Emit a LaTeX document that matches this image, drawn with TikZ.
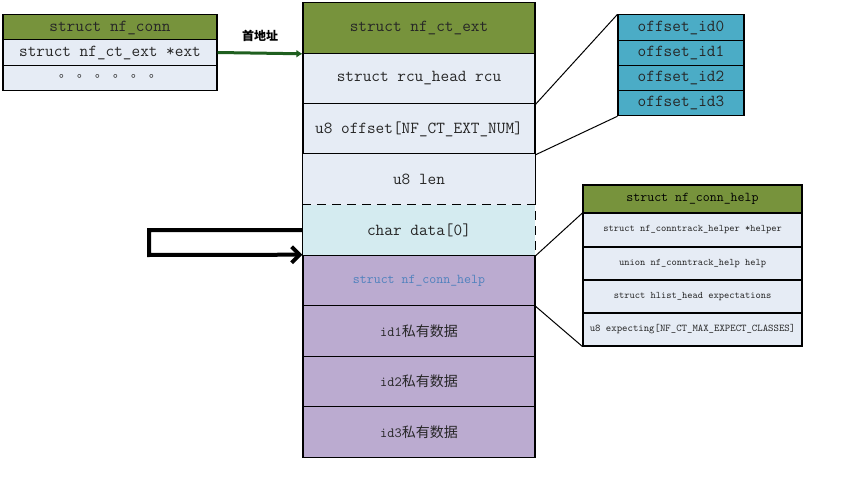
\documentclass[tikz,border=0pt]{standalone}
\usepackage{fontspec}
\newfontfamily\cjk{Noto Sans CJK SC}
\usetikzlibrary{arrows.meta}
\definecolor{hdrgreen}{HTML}{77933C}
\definecolor{rowlight}{HTML}{E6ECF5}
\definecolor{rowcyan}{HTML}{D4EBF0}
\definecolor{rowpurple}{HTML}{BBABD0}
\definecolor{offteal}{HTML}{4BACC6}
\definecolor{bluetext}{HTML}{4F81BD}
\definecolor{arrowgreen}{HTML}{1F5F1F}
\tikzset{
  cell/.style={draw=black, line width=1.1pt, inner sep=0pt, font=\ttfamily, text=black!85},
  mainrow/.style={cell, minimum width=232pt, minimum height=50.5pt, font=\ttfamily\fontsize{16.8}{18}\selectfont},
  leftrow/.style={cell, minimum width=214pt, minimum height=25.3pt, font=\ttfamily\fontsize{16.8}{18}\selectfont},
  offrow/.style={cell, fill=offteal, minimum width=126pt, minimum height=25.2pt, font=\ttfamily\fontsize{16.8}{18}\selectfont},
  helprow/.style={cell, fill=rowlight, minimum width=219pt, minimum height=33pt, font=\ttfamily\fontsize{10}{12}\selectfont},
  link/.style={draw=black, line width=1pt},
  dashedge/.style={line width=1.1pt, dash pattern=on 9pt off 6pt},
}
\begin{document}
\begin{tikzpicture}[x=1pt,y=-1pt]
\useasboundingbox (0,0) rectangle (854,492);
% main column
\node[mainrow, fill=hdrgreen] (r1) at (419,28) {struct nf\_ct\_ext};
\node[mainrow, fill=rowlight] (r2) at (419,78.5) {struct rcu\_head rcu};
\node[mainrow, fill=rowlight] (r3) at (419,129) {u8 offset[NF\_CT\_EXT\_NUM]};
\node[mainrow, fill=rowlight, draw=none] (r4) at (419,179.5) {u8 len};
\draw[line width=1.1pt] (r4.south west) -- (r4.north west) -- (r4.north east) -- (r4.south east);
\node[mainrow, fill=rowcyan, draw=none] (r5) at (419,230) {char data[0]};
\draw[dashedge] (r5.north west) -- (r5.north east) -- (r5.south east);
\draw[line width=1.1pt] (r5.north west) -- (r5.south west);
\node[mainrow, fill=rowpurple, font=\ttfamily\fontsize{13.5}{15}\selectfont, text=bluetext] (r6) at (419,280.5) {struct nf\_conn\_help};
\node[mainrow, fill=rowpurple, font=\ttfamily\fontsize{14}{16}\selectfont] (r7) at (419,331) {id1{\cjk 私有数据}};
\node[mainrow, fill=rowpurple, font=\ttfamily\fontsize{14}{16}\selectfont] (r8) at (419,381.5) {id2{\cjk 私有数据}};
\node[mainrow, fill=rowpurple, font=\ttfamily\fontsize{14}{16}\selectfont] (r9) at (419,432) {id3{\cjk 私有数据}};
% left struct
\node[leftrow, fill=hdrgreen] (l1) at (110,27.5) {struct nf\_conn};
\node[leftrow, fill=rowlight] (l2) at (110,52.5) {struct nf\_ct\_ext *ext};
\node[leftrow, fill=rowlight, font=\cjk\fontsize{12}{12}\selectfont] (l3) at (110,78) {\raisebox{3pt}{。\hspace{6pt}。\hspace{6pt}。\hspace{6pt}。\hspace{6pt}。\hspace{6pt}。}};
% pointer arrow
\draw[arrowgreen, line width=3pt, -{Latex[length=6pt,width=8pt]}] (l2.east) -- (r1.south west) node[midway, above=7pt, text=black, font=\cjk\bfseries\fontsize{12}{14}\selectfont] (lbl) {首地址};
% offsets
\node[offrow] (o0) at (681,27.5) {offset\_id0};
\node[offrow] (o1) at (681,52.7) {offset\_id1};
\node[offrow] (o2) at (681,77.9) {offset\_id2};
\node[offrow] (o3) at (681,103.1) {offset\_id3};
\draw[link] (r2.south east) -- (o0.north west);
\draw[link] (r3.south east) -- (o3.south west);
% help struct
\node[helprow, fill=hdrgreen, minimum height=28pt, font=\ttfamily\fontsize{13.5}{15}\selectfont, text=black] (h0) at (692.5,199) {struct nf\_conn\_help};
\node[helprow] (h1) at (692.5,230) {struct nf\_conntrack\_helper *helper};
\node[helprow] (h2) at (692.5,263.5) {union nf\_conntrack\_help help};
\node[helprow] (h3) at (692.5,296.5) {struct hlist\_head expectations};
\node[helprow, font=\ttfamily\fontsize{10.3}{12}\selectfont] (h4) at (692.5,329.5) {u8 expecting[NF\_CT\_MAX\_EXPECT\_CLASSES]};
\draw[link] (r5.south east) -- (h1.north west);
\draw[link] (r6.south east) -- (h4.south west);
% loop arrow
\coordinate (lp1) at (149,230);
\coordinate (lp2) at (149,255);
\draw[line width=4pt, -{Straight Barb[length=8pt,width=16pt]}] (r5.west) -- (lp1) -- (lp2) -- (r6.north west);
\end{tikzpicture}
\end{document}
